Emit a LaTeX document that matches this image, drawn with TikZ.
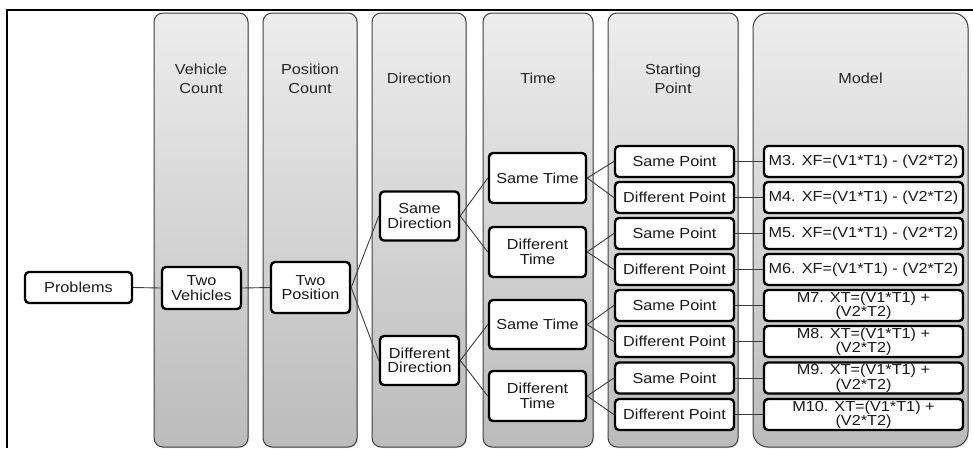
\documentclass[tikz,border=0pt]{standalone}
\usepackage{fontspec}
\setmainfont{Liberation Sans}[FakeStretch=1.12]
\usetikzlibrary{shadows}
\definecolor{laneTop}{HTML}{EDEDED}
\definecolor{laneBot}{HTML}{BBBBBB}
\definecolor{connc}{HTML}{3A3A3A}
\begin{document}
\begin{tikzpicture}[x=1pt,y=-1pt,
  lane/.style={draw=black!75, line width=1pt, rounded corners=9pt, top color=laneTop, bottom color=laneBot, inner sep=0pt, minimum height=434pt,
    drop shadow={shadow xshift=1pt,shadow yshift=-1pt,opacity=0.3}},
  hdr/.style={align=center, font=\fontsize{14.5}{19}\selectfont, text=black!85, inner sep=0pt},
  box/.style={draw=black, line width=2.4pt, fill=white, rounded corners=4pt, inner sep=0pt, align=center,
    font=\fontsize{14.5}{14.5}\selectfont, text=black!90,
    drop shadow={shadow xshift=1.2pt,shadow yshift=-1.2pt,opacity=0.35}},
  sp/.style={box, minimum width=119pt, minimum height=31pt},
  md/.style={box, minimum width=199pt, minimum height=31pt},
  link/.style={draw=connc, line width=0.9pt}]
\useasboundingbox (0,0) rectangle (973,448);
% frame
\draw[line width=1.2pt] (7,448) -- (7,10) -- (973,10);
% lanes
\node[lane, minimum width=94pt]  (l1) at (201,230) {};
\node[lane, minimum width=94pt]  (l2) at (310,230) {};
\node[lane, minimum width=94pt]  (l3) at (419,230) {};
\node[lane, minimum width=110pt] (l4) at (538,230) {};
\node[lane, minimum width=130pt] (l5) at (673,230) {};
\node[lane, minimum width=215pt, rounded corners=15pt] (l6) at (860.5,230) {};
% headers
\node[hdr] (h1) at (201,78.5) {Vehicle\\Count};
\node[hdr] (h2) at (310,78.5) {Position\\Count};
\node[hdr] (h3) at (419,78.5) {Direction};
\node[hdr] (h4) at (538,78.5) {Time};
\node[hdr] (h5) at (673,78.5) {Starting\\Point};
\node[hdr] (h6) at (860.5,78.5) {Model};
% tree nodes
\node[box, minimum width=107pt, minimum height=31pt] (prob) at (78.5,287.5) {Problems};
\node[box, minimum width=79pt, minimum height=42pt] (veh) at (201.5,288) {Two\\Vehicles};
\node[box, minimum width=79pt, minimum height=51pt] (pos) at (310.5,287.5) {Two\\Position};
\node[box, minimum width=79pt, minimum height=49pt] (sd) at (419.5,216) {Same\\Direction};
\node[box, minimum width=79pt, minimum height=49pt] (dd) at (419.5,360.5) {Different\\Direction};
\node[box, minimum width=97pt, minimum height=50pt] (st1) at (537.5,178) {Same Time};
\node[box, minimum width=97pt, minimum height=50pt] (dt1) at (537.5,252) {Different\\Time};
\node[box, minimum width=97pt, minimum height=49pt] (st2) at (537.5,324.5) {Same Time};
\node[box, minimum width=97pt, minimum height=50pt] (dt2) at (537.5,396) {Different\\Time};
\node[sp] (p1) at (674.5,161.5) {Same Point};
\node[sp] (p2) at (674.5,197.5) {Different Point};
\node[sp] (p3) at (674.5,233.5) {Same Point};
\node[sp] (p4) at (674.5,269.5) {Different Point};
\node[sp] (p5) at (674.5,305.5) {Same Point};
\node[sp] (p6) at (674.5,341.5) {Different Point};
\node[sp] (p7) at (674.5,378) {Same Point};
\node[sp] (p8) at (674.5,414.5) {Different Point};
\node[md] (m3) at (863.5,161.5) {M3. XF=(V1*T1) - (V2*T2)};
\node[md] (m4) at (863.5,197.5) {M4. XF=(V1*T1) - (V2*T2)};
\node[md] (m5) at (863.5,233.5) {M5. XF=(V1*T1) - (V2*T2)};
\node[md] (m6) at (863.5,269.5) {M6. XF=(V1*T1) - (V2*T2)};
\node[md] (m7) at (863.5,305.5) {M7. XT=(V1*T1) +\\(V2*T2)};
\node[md] (m8) at (863.5,341.5) {M8. XT=(V1*T1) +\\(V2*T2)};
\node[md] (m9) at (863.5,378) {M9. XT=(V1*T1) +\\(V2*T2)};
\node[md] (m10) at (863.5,414.5) {M10. XT=(V1*T1) +\\(V2*T2)};
% connectors
\path[link] (prob.east) -- (veh.west);
\path[link] (veh.east) -- (pos.west);
\path[link] (pos.east) -- (sd.west);
\path[link] (pos.east) -- (dd.west);
\path[link] (sd.east) -- (st1.west);
\path[link] (sd.east) -- (dt1.west);
\path[link] (dd.east) -- (st2.west);
\path[link] (dd.east) -- (dt2.west);
\path[link] (st1.east) -- (p1.west);
\path[link] (st1.east) -- (p2.west);
\path[link] (dt1.east) -- (p3.west);
\path[link] (dt1.east) -- (p4.west);
\path[link] (st2.east) -- (p5.west);
\path[link] (st2.east) -- (p6.west);
\path[link] (dt2.east) -- (p7.west);
\path[link] (dt2.east) -- (p8.west);
\path[link] (p1.east) -- (m3.west);
\path[link] (p2.east) -- (m4.west);
\path[link] (p3.east) -- (m5.west);
\path[link] (p4.east) -- (m6.west);
\path[link] (p5.east) -- (m7.west);
\path[link] (p6.east) -- (m8.west);
\path[link] (p7.east) -- (m9.west);
\path[link] (p8.east) -- (m10.west);
\end{tikzpicture}
\end{document}
